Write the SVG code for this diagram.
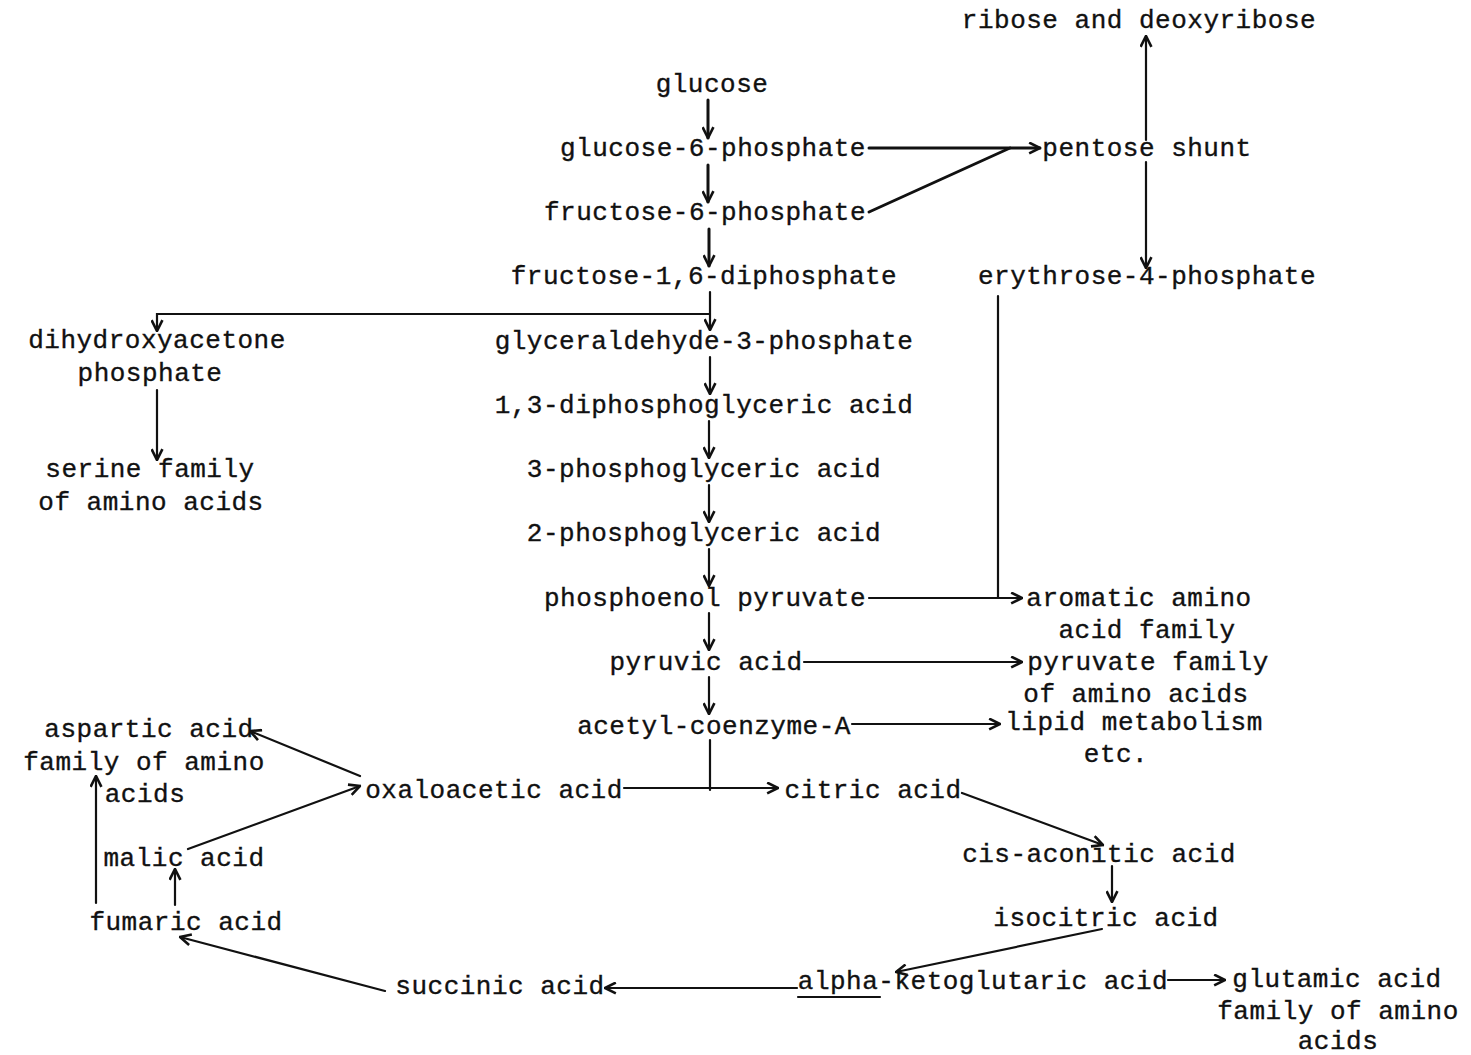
<svg xmlns="http://www.w3.org/2000/svg" width="1471" height="1055" viewBox="0 0 1471 1055">
  <style>
    text { font-family: "Liberation Mono", "DejaVu Sans Mono", monospace; font-size: 26px; letter-spacing: 0.5px; fill: #111; stroke: #111; stroke-width: 0.35; }
    .c { text-anchor: middle; }
    .ln { fill: none; stroke: #111; stroke-width: 2.2; stroke-linecap: round; }
    .arr { marker-end: url(#head); }
    .thick { stroke-width: 3; }
  </style>
  <defs>
    <marker id="head" viewBox="0 0 12 12" refX="11" refY="6" markerWidth="13" markerHeight="13" markerUnits="userSpaceOnUse" orient="auto">
      <path d="M1,1 L11,6 L1,11" fill="none" stroke="#111" stroke-width="2.4" stroke-linejoin="miter"/>
    </marker>
  </defs>
  <rect width="1471" height="1055" fill="#fff"/>

  <!-- glycolysis chain -->
  <g id="glucose"><text class="c" x="712" y="92">glucose</text></g>
  <g id="glucose-6-phosphate"><text class="c" x="713" y="156">glucose-6-phosphate</text></g>
  <g id="fructose-6-phosphate"><text class="c" x="705" y="220">fructose-6-phosphate</text></g>
  <g id="fructose-1-6-diphosphate"><text class="c" x="704" y="284">fructose-1,6-diphosphate</text></g>
  <g id="glyceraldehyde-3-phosphate"><text class="c" x="704" y="349">glyceraldehyde-3-phosphate</text></g>
  <g id="diphosphoglyceric-acid"><text class="c" x="704" y="413">1,3-diphosphoglyceric acid</text></g>
  <g id="phosphoglyceric-acid-3"><text class="c" x="704" y="477">3-phosphoglyceric acid</text></g>
  <g id="phosphoglyceric-acid-2"><text class="c" x="704" y="541">2-phosphoglyceric acid</text></g>
  <g id="phosphoenol-pyruvate"><text class="c" x="705" y="606">phosphoenol pyruvate</text></g>
  <g id="pyruvic-acid"><text class="c" x="706" y="670">pyruvic acid</text></g>
  <g id="acetyl-coenzyme-a"><text class="c" x="714" y="734">acetyl-coenzyme-A</text></g>

  <!-- pentose shunt branch -->
  <g id="ribose"><text class="c" x="1139" y="28">ribose and deoxyribose</text></g>
  <g id="pentose-shunt"><text class="c" x="1147" y="156">pentose shunt</text></g>
  <g id="erythrose-4-phosphate"><text class="c" x="1147" y="284">erythrose-4-phosphate</text></g>

  <!-- side products -->
  <g id="dihydroxyacetone-phosphate">
    <text class="c" x="157" y="348">dihydroxyacetone</text>
    <text class="c" x="150" y="381">phosphate</text>
  </g>
  <g id="serine-family">
    <text class="c" x="150" y="477">serine family</text>
    <text class="c" x="151" y="510">of amino acids</text>
  </g>
  <g id="aromatic-family">
    <text class="c" x="1139" y="606">aromatic amino</text>
    <text class="c" x="1147" y="638">acid family</text>
  </g>
  <g id="pyruvate-family">
    <text class="c" x="1148" y="670">pyruvate family</text>
    <text class="c" x="1136" y="702">of amino acids</text>
  </g>
  <g id="lipid-metabolism">
    <text class="c" x="1134" y="730">lipid metabolism</text>
    <text class="c" x="1116" y="762">etc.</text>
  </g>

  <!-- citric acid cycle -->
  <g id="oxaloacetic-acid"><text class="c" x="494" y="798">oxaloacetic acid</text></g>
  <g id="citric-acid"><text class="c" x="873" y="798">citric acid</text></g>
  <g id="cis-aconitic-acid"><text class="c" x="1099" y="862">cis-aconitic acid</text></g>
  <g id="isocitric-acid"><text class="c" x="1106" y="926">isocitric acid</text></g>
  <g id="alpha-ketoglutaric-acid">
    <text class="c" x="983" y="989">alpha-ketoglutaric acid</text>
    <line class="ln" x1="798" y1="997" x2="880" y2="997" stroke-width="1.6"/>
  </g>
  <g id="glutamic-family">
    <text class="c" x="1337" y="987">glutamic acid</text>
    <text class="c" x="1338" y="1019">family of amino</text>
    <text class="c" x="1338" y="1049">acids</text>
  </g>
  <g id="succinic-acid"><text class="c" x="500" y="994">succinic acid</text></g>
  <g id="fumaric-acid"><text class="c" x="186" y="930">fumaric acid</text></g>
  <g id="malic-acid"><text class="c" x="184" y="866">malic acid</text></g>
  <g id="aspartic-family">
    <text class="c" x="149" y="737">aspartic acid</text>
    <text class="c" x="144" y="770">family of amino</text>
    <text class="c" x="145" y="802">acids</text>
  </g>

  <g id="connectors">
    <!-- main chain -->
    <line class="ln arr thick" x1="708" y1="100" x2="708" y2="138"/>
    <line class="ln arr thick" x1="708" y1="165" x2="708" y2="202"/>
    <line class="ln arr thick" x1="709" y1="229" x2="709" y2="266"/>
    <line class="ln arr" x1="710" y1="292" x2="710" y2="330"/>
    <line class="ln arr" x1="710" y1="357" x2="710" y2="394"/>
    <line class="ln arr" x1="709" y1="421" x2="709" y2="458"/>
    <line class="ln arr" x1="709" y1="485" x2="709" y2="522"/>
    <line class="ln arr" x1="709" y1="549" x2="709" y2="586"/>
    <line class="ln arr" x1="709" y1="613" x2="709" y2="650"/>
    <line class="ln arr" x1="709" y1="677" x2="709" y2="714"/>
    <!-- acetyl-CoA joins the oxaloacetate to citrate step -->
    <line class="ln" x1="710" y1="740" x2="710" y2="790"/>
    <line class="ln arr" x1="624" y1="788" x2="778" y2="788"/>

    <!-- triose split to dihydroxyacetone phosphate -->
    <polyline class="ln arr" points="710,314 157,314 157,331"/>
    <line class="ln arr" x1="157" y1="390" x2="157" y2="460"/>

    <!-- pentose shunt -->
    <line class="ln arr thick" x1="869" y1="148" x2="1040" y2="148"/>
    <line class="ln thick" x1="869" y1="212" x2="1010" y2="148"/>
    <line class="ln arr" x1="1146" y1="140" x2="1146" y2="36"/>
    <line class="ln arr" x1="1146" y1="162" x2="1146" y2="268"/>
    <polyline class="ln" points="998,296 998,598"/>

    <!-- branches to amino acid families -->
    <line class="ln arr" x1="869" y1="598" x2="1022" y2="598"/>
    <line class="ln arr" x1="804" y1="662" x2="1022" y2="662"/>
    <line class="ln arr" x1="852" y1="724" x2="1000" y2="724"/>

    <!-- cycle -->
    <line class="ln arr" x1="962" y1="793" x2="1103" y2="845"/>
    <line class="ln arr" x1="1112" y1="866" x2="1112" y2="902"/>
    <line class="ln arr" x1="1102" y1="929" x2="896" y2="972"/>
    <line class="ln arr" x1="1168" y1="980" x2="1225" y2="980"/>
    <line class="ln arr" x1="797" y1="988" x2="605" y2="988"/>
    <line class="ln arr" x1="385" y1="991" x2="180" y2="937"/>
    <line class="ln arr" x1="175" y1="905" x2="175" y2="869"/>
    <line class="ln arr" x1="96" y1="903" x2="96" y2="776"/>
    <line class="ln arr" x1="188" y1="849" x2="360" y2="786"/>
    <line class="ln arr" x1="360" y1="776" x2="250" y2="731"/>
  </g>
</svg>
